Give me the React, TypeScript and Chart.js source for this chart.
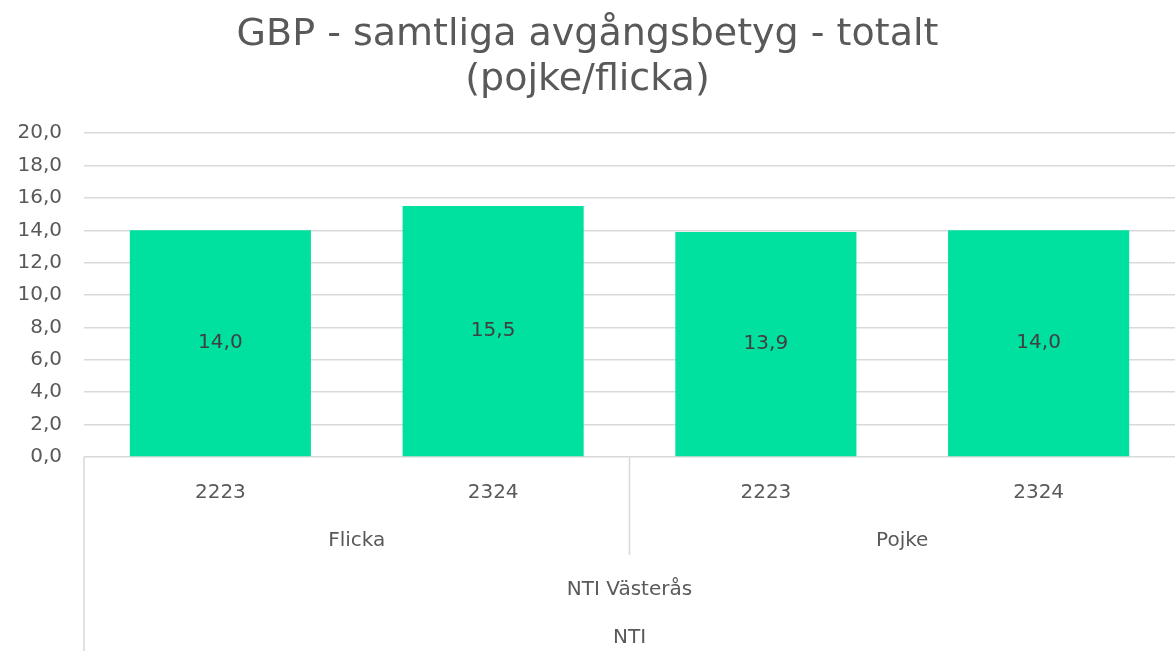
import React, { useEffect, useRef } from "react";
import { Chart, registerables } from "chart.js";

Chart.register(...registerables);

const years = ["2223", "2324", "2223", "2324"];
const genders = ["Flicka", "Pojke"];
const school = "NTI Västerås";
const org = "NTI";
const values = [14.0, 15.5, 13.9, 14.0];
const titleLines = ["GBP - samtliga avgångsbetyg - totalt", "(pojke/flicka)"];

const FONT = "'DejaVu Sans', sans-serif";
const TEXT = "#595959";
const LINE = "#d9d9d9";

const fmt = (v: number) => v.toFixed(1).replace(".", ",");

const labelsPlugin = {
  id: "barLabels",
  afterDatasetsDraw(chart: any) {
    const ctx = chart.ctx;
    const meta = chart.getDatasetMeta(0);
    ctx.save();
    ctx.font = `20px ${FONT}`;
    ctx.fillStyle = "#404040";
    ctx.textAlign = "center";
    ctx.textBaseline = "middle";
    meta.data.forEach((bar: any, i: number) => {
      const y = (bar.y + bar.base) / 2;
      ctx.fillText(fmt(values[i]), bar.x, y);
    });
    ctx.restore();
  },
};

const multiAxisPlugin = {
  id: "multiAxis",
  afterDraw(chart: any) {
    const ctx = chart.ctx;
    const xs = chart.scales.x;
    const area = chart.chartArea;
    const bottom = area.bottom;
    const H = chart.height;
    const px = years.map((_, i) => xs.getPixelForValue(i));
    ctx.save();
    ctx.strokeStyle = LINE;
    ctx.lineWidth = 1.5;
    ctx.beginPath();
    ctx.moveTo(area.left, bottom);
    ctx.lineTo(area.left, H);
    const mid = (px[1] + px[2]) / 2;
    ctx.moveTo(mid, bottom);
    ctx.lineTo(mid, bottom + 98);
    ctx.stroke();

    ctx.font = `20px ${FONT}`;
    ctx.fillStyle = TEXT;
    ctx.textAlign = "center";
    ctx.textBaseline = "middle";
    years.forEach((y, i) => ctx.fillText(y, px[i], bottom + 36));
    ctx.fillText(genders[0], (px[0] + px[1]) / 2, bottom + 84);
    ctx.fillText(genders[1], (px[2] + px[3]) / 2, bottom + 84);
    const center = (area.left + area.right) / 2;
    ctx.fillText(school, center, bottom + 133);
    ctx.fillText(org, center, bottom + 181);
    ctx.restore();
  },
};

export default function App() {
  const ref = useRef<HTMLCanvasElement>(null);
  useEffect(() => {
    if (!ref.current) return;
    const chart = new Chart(ref.current, {
      type: "bar",
      data: {
        labels: years,
        datasets: [
          {
            data: values,
            backgroundColor: "#00E09E",
            borderWidth: 0,
            barPercentage: 0.664,
            categoryPercentage: 1,
          },
        ],
      },
      options: {
        animation: false,
        responsive: true,
        maintainAspectRatio: false,
        layout: { padding: { left: 0, right: 0, top: 0, bottom: 194 } },
        plugins: {
          legend: { display: false },
          tooltip: { enabled: false },
          title: {
            display: true,
            text: titleLines,
            color: TEXT,
            font: { family: FONT, size: 38, weight: "normal", lineHeight: 1.2 },
            padding: { top: 12, bottom: 30 },
          },
        },
        scales: {
          x: {
            display: false,
          },
          y: {
            min: 0,
            max: 20,
            afterFit: (s: any) => {
              s.width = 84;
            },
            ticks: {
              stepSize: 2,
              padding: 22,
              color: TEXT,
              font: { family: FONT, size: 20 },
              callback: (v: any) => fmt(Number(v)),
            },
            grid: { color: LINE, lineWidth: 1.5, drawTicks: false },
            border: { display: false },
          },
        },
      },
      plugins: [labelsPlugin, multiAxisPlugin],
    });
    return () => chart.destroy();
  }, []);
  return (
    <div style={{ position: "fixed", left: 0, top: 0, width: 1175, height: 651, background: "#fff" }}>
      <canvas ref={ref} />
    </div>
  );
}
